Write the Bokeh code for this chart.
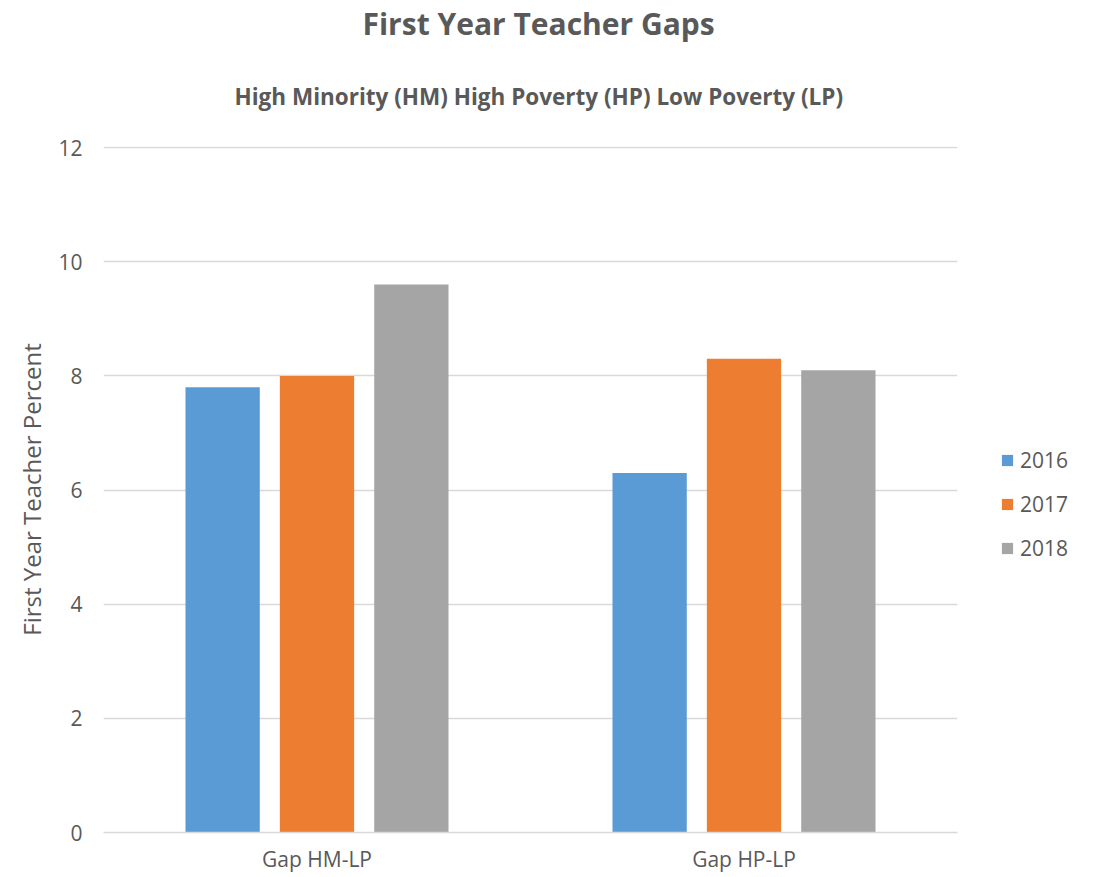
from bokeh.plotting import figure
from bokeh.models import ColumnDataSource, Range1d, FactorRange, Legend, LegendItem, Title
from bokeh.transform import dodge
from bokeh.embed import file_html
from bokeh.resources import INLINE

categories = ["Gap HM-LP", "Gap HP-LP"]
years = ["2016", "2017", "2018"]
values_2016 = [7.8, 6.3]
values_2017 = [8.0, 8.3]
values_2018 = [9.6, 8.1]
colors = ["#5B9BD5", "#ED7D31", "#A5A5A5"]
y_ticks = [0, 2, 4, 6, 8, 10, 12]

FONT = "Open Sans"
TXT = "#595959"

src = ColumnDataSource(dict(cat=categories, y2016=values_2016, y2017=values_2017, y2018=values_2018))

p = figure(frame_width=854, frame_height=686, x_range=FactorRange(factors=categories, range_padding=0),
           y_range=Range1d(0, 12.02), output_backend="svg", toolbar_location=None,
           min_border_left=103, min_border_right=129, min_border_top=142, min_border_bottom=30)
p.outline_line_color = None
p.background_fill_color = "white"
p.border_fill_color = "white"

offsets = [-0.221, 0.0, 0.221]
renderers = []
for yr, col, off in zip(years, colors, offsets):
    r = p.vbar(x=dodge("cat", off, range=p.x_range), top="y" + yr, width=0.174,
               source=src, fill_color=col, line_color=None)
    renderers.append(r)

p.yaxis.ticker = y_ticks
p.yaxis.axis_line_color = None
p.yaxis.major_tick_line_color = None
p.yaxis.minor_tick_line_color = None
p.yaxis.major_tick_out = 0
p.yaxis.major_tick_in = 0
p.yaxis.major_label_standoff = 21
p.yaxis.major_label_text_font = FONT
p.yaxis.major_label_text_font_size = "21px"
p.yaxis.major_label_text_color = TXT
p.yaxis.axis_label = "First Year Teacher Percent"
p.yaxis.axis_label_text_font = FONT
p.yaxis.axis_label_text_font_style = "normal"
p.yaxis.axis_label_text_font_size = "24px"
p.yaxis.axis_label_text_color = TXT
p.yaxis.axis_label_standoff = 7

p.xaxis.axis_line_color = "#D9D9D9"
p.xaxis.axis_line_width = 1.3
p.xaxis.major_tick_line_color = None
p.xaxis.minor_tick_line_color = None
p.xaxis.major_tick_out = 0
p.xaxis.major_tick_in = 0
p.xaxis.major_label_standoff = 12
p.xaxis.major_label_text_font = FONT
p.xaxis.major_label_text_font_size = "21px"
p.xaxis.major_label_text_color = TXT

p.xgrid.grid_line_color = None
p.ygrid.grid_line_color = "#D9D9D9"
p.ygrid.grid_line_width = 1.3

legend = Legend(items=[LegendItem(label=yr, renderers=[r]) for yr, r in zip(years, renderers)],
                location=(43, 270), border_line_color=None, background_fill_alpha=0,
                padding=0, margin=0, spacing=16, glyph_width=14, glyph_height=14,
                label_text_font=FONT, label_text_font_size="21px", label_text_color=TXT,
                label_standoff=6, label_height=20)
p.add_layout(legend, "right")

sub = Title(text="High Minority (HM) High Poverty (HP) Low Poverty (LP)", align="left", offset=131,
            text_font=FONT, text_font_size="22.5px", text_font_style="bold", text_color=TXT,
            standoff=70)
p.add_layout(sub, "above")
title = Title(text="First Year Teacher Gaps", align="left", offset=259,
              text_font=FONT, text_font_size="30px", text_font_style="bold", text_color=TXT,
              standoff=0)
p.add_layout(title, "above")

open("out.html", "w").write(file_html(p, INLINE))
